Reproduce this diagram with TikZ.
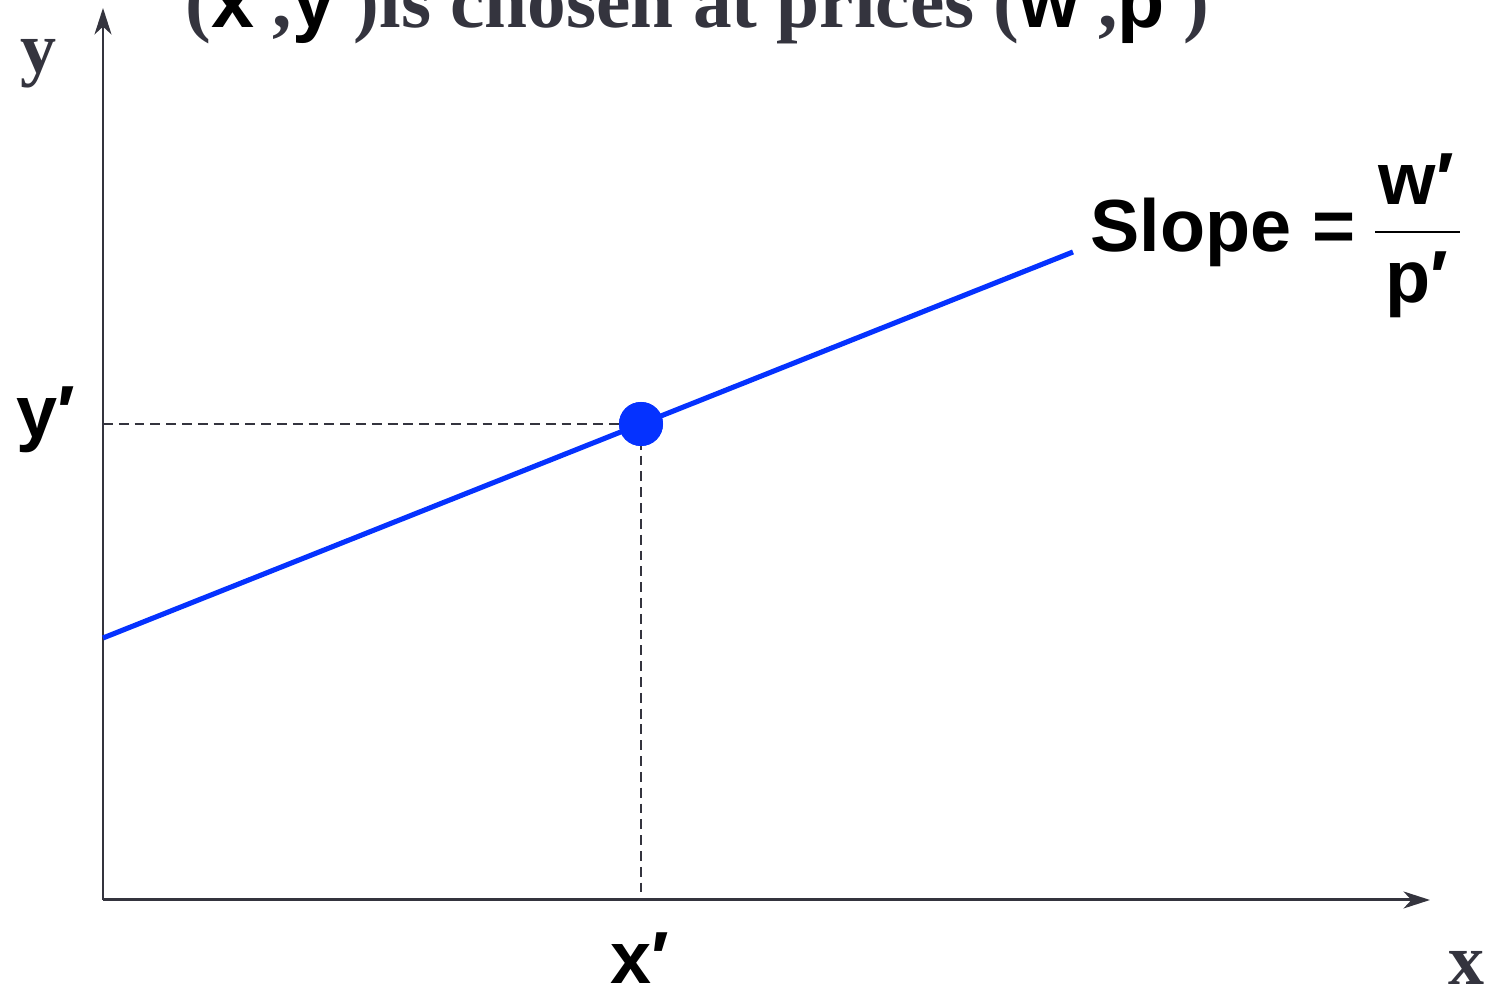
\documentclass[tikz,border=0pt]{standalone}
\usepackage{fontspec}
\setmainfont{Liberation Serif}
\setsansfont{Liberation Sans}
\usetikzlibrary{arrows.meta,positioning}
\definecolor{axisgray}{RGB}{52,52,62}
\definecolor{lineblue}{RGB}{5,50,255}
\begin{document}
\begin{tikzpicture}[x=0.1mm, y=0.1mm,
    axis/.style={draw=axisgray, line width=0.85pt, -{Stealth[length=7.5pt,width=4.8pt,inset=2.2pt]}},
    guide/.style={draw=axisgray, line width=0.55pt, dash pattern=on 2.8pt off 1.7pt},
    sanslab/.style={font=\sffamily\bfseries\fontsize{21}{24}\selectfont, inner sep=0pt},
    seriflab/.style={font=\bfseries\fontsize{20.5}{24}\selectfont, text=axisgray, inner sep=0pt}]
    \useasboundingbox (0,0) rectangle (1490,995);
    % axes
    \coordinate (O) at (103,95);
    \coordinate (ytop) at (103,987);
    \coordinate (xend) at (1430,95);
    \draw[axis] (O) -- (ytop);
    \draw[axis] (O) -- (xend);
    \node[seriflab, anchor=base west] (ylab) at (20,922) {y};
    \node[seriflab, anchor=base west] (xlab) at (1448,10) {x};
    % title (runs off the top edge)
    \node[anchor=base west, inner sep=0pt, text=axisgray,
          font=\bfseries\fontsize{22}{24}\selectfont] (title) at (185,967)
        {(\textcolor{black}{\textsf{x′}},\textcolor{black}{\textsf{y′}})is chosen at prices (\textcolor{black}{\textsf{w′}},\textcolor{black}{\textsf{p′}})};
    % budget line and chosen point
    \coordinate (lstart) at (103,357);
    \coordinate (lend) at (1073,743);
    \node[circle, fill=lineblue, inner sep=0pt, minimum size=4.4mm] (pt) at (641,571) {};
    \coordinate (ymark) at (O |- pt);
    \coordinate (xmark) at (O -| pt);
    \draw[guide] (ymark) -- (pt.center);
    \draw[guide] (pt.center) -- (xmark);
    \draw[lineblue, line width=1.45pt] (lstart) -- (lend);
    \node[circle, fill=lineblue, inner sep=0pt, minimum size=4.4mm] at (pt) {};
    \node[sanslab, anchor=base west] (yprime) at (16,557) {y′};
    \node[sanslab, anchor=base west] (xprime) at (610,11) {x′};
    % slope label
    \node[sanslab, anchor=base west] (slope) at (1090,743) {Slope =};
    \coordinate (barl) at (1375,763);
    \coordinate (barr) at (1460,763);
    \draw[line width=0.4pt] (barl) -- (barr);
    \node[sanslab, anchor=base west] (num) at (1378,790) {w′};
    \node[sanslab, anchor=base west] (den) at (1385,692) {p′};
\end{tikzpicture}
\end{document}
